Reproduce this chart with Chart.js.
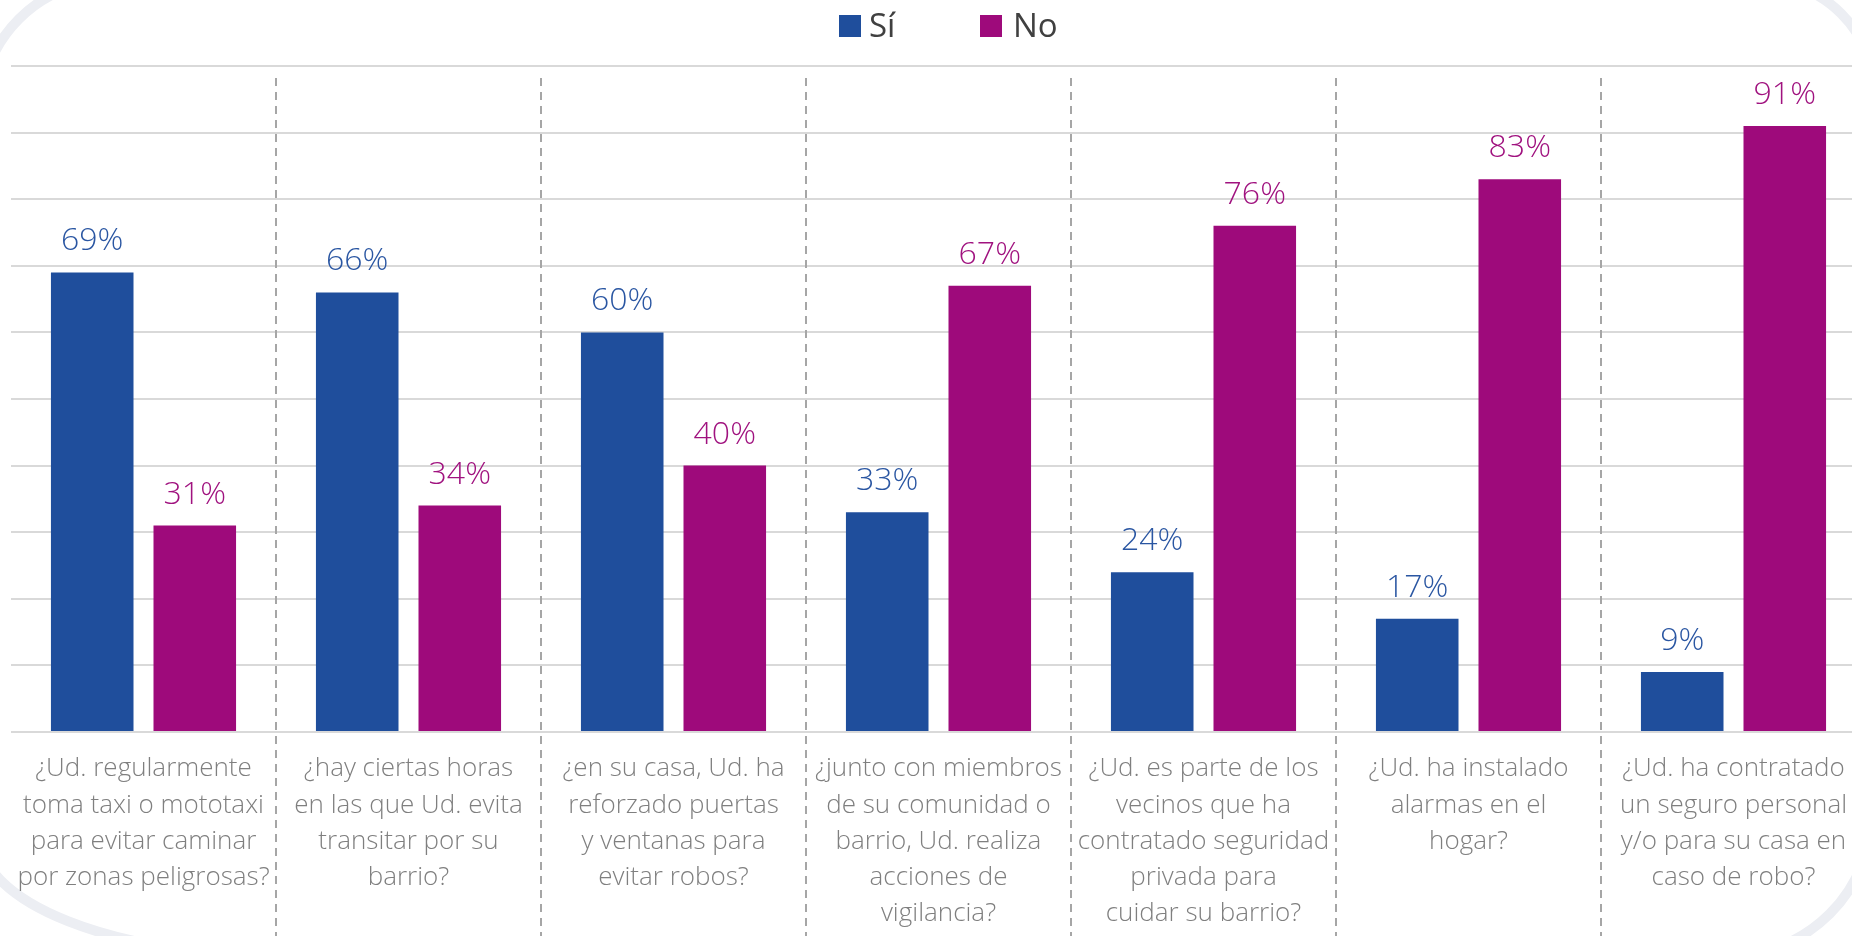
<!DOCTYPE html>
<html>
<head>
<meta charset="utf-8">
<script src="https://cdn.jsdelivr.net/npm/chart.js@4.4.1/dist/chart.umd.min.js"></script>
<style>
  html, body { margin: 0; padding: 0; background: #fff; overflow: hidden; }
  canvas { display: block; }
</style>
</head>
<body>
<canvas id="chart" width="1870" height="936"></canvas>
<script>
// datos del grafico
const categories = [
  ['¿Ud. regularmente', 'toma taxi o mototaxi', 'para evitar caminar', 'por zonas peligrosas?'],
  ['¿hay ciertas horas', 'en las que Ud. evita', 'transitar por su', 'barrio?'],
  ['¿en su casa, Ud. ha', 'reforzado puertas', 'y ventanas para', 'evitar robos?'],
  ['¿junto con miembros', 'de su comunidad o', 'barrio, Ud. realiza', 'acciones de', 'vigilancia?'],
  ['¿Ud. es parte de los', 'vecinos que ha', 'contratado seguridad', 'privada para', 'cuidar su barrio?'],
  ['¿Ud. ha instalado', 'alarmas en el', 'hogar?'],
  ['¿Ud. ha contratado', 'un seguro personal', 'y/o para su casa en', 'caso de robo?']
];
const seriesNames = ['Sí', 'No'];
const siValues = [69, 66, 60, 33, 24, 17, 9];
const noValues = [31, 34, 40, 67, 76, 83, 91];
const yMin = 0, yMax = 100, yStep = 10;

const FONT = "'Open Sans', 'Noto Sans', sans-serif";
const barColors = ['#1f4e9c', '#9e0a7b'];
const labelColors = ['#2a56a2', '#a0127f'];

// arcos decorativos del fondo
const decoPlugin = {
  id: 'deco',
  beforeDraw(chart) {
    const ctx = chart.ctx;
    ctx.save();
    ctx.strokeStyle = '#eceef3';
    ctx.lineWidth = 10;
    ctx.beginPath(); ctx.arc(113, 113, 133, Math.PI, 1.5 * Math.PI); ctx.stroke();
    ctx.beginPath(); ctx.arc(1760, 95, 115, 1.5 * Math.PI, 2 * Math.PI); ctx.stroke();
    ctx.beginPath(); ctx.arc(1728, 812, 144, 0, 0.5 * Math.PI); ctx.stroke();
    ctx.beginPath(); ctx.ellipse(280, 837, 300, 119, 0, 0.5 * Math.PI, Math.PI); ctx.stroke();
    ctx.restore();
  }
};

// lineas punteadas entre categorias
const separatorPlugin = {
  id: 'separators',
  beforeDatasetsDraw(chart) {
    const ctx = chart.ctx;
    const x = chart.scales.x;
    ctx.save();
    ctx.strokeStyle = '#a6a6a6';
    ctx.lineWidth = 2;
    ctx.setLineDash([8, 6]);
    for (let i = 0; i < categories.length - 1; i++) {
      const px = Math.round((x.getPixelForValue(i) + x.getPixelForValue(i + 1)) / 2);
      ctx.beginPath();
      ctx.moveTo(px, 78);
      ctx.lineTo(px, chart.height);
      ctx.stroke();
    }
    ctx.restore();
  }
};

// etiquetas de valor encima de cada barra
const valueLabelPlugin = {
  id: 'valueLabels',
  afterDatasetsDraw(chart) {
    const ctx = chart.ctx;
    ctx.save();
    ctx.font = '300 32px ' + FONT;
    ctx.textAlign = 'center';
    ctx.textBaseline = 'alphabetic';
    chart.data.datasets.forEach((ds, di) => {
      ctx.fillStyle = labelColors[di];
      chart.getDatasetMeta(di).data.forEach((bar, i) => {
        ctx.fillText(ds.data[i] + '%', bar.x, bar.y - 22);
      });
    });
    ctx.restore();
  }
};

// leyenda arriba
const legendPlugin = {
  id: 'topLegend',
  afterDraw(chart) {
    const ctx = chart.ctx;
    const items = [{ box: 839, text: 869 }, { box: 980, text: 1013 }];
    ctx.save();
    ctx.font = '33px ' + FONT;
    ctx.textBaseline = 'alphabetic';
    ctx.textAlign = 'left';
    chart.data.datasets.forEach((ds, i) => {
      ctx.fillStyle = ds.backgroundColor;
      ctx.fillRect(items[i].box, 15, 22, 22);
      ctx.fillStyle = '#404040';
      ctx.fillText(ds.label, items[i].text, 37);
    });
    ctx.restore();
  }
};

new Chart(document.getElementById('chart'), {
  type: 'bar',
  data: {
    labels: categories,
    datasets: [
      { label: seriesNames[0], data: siValues, backgroundColor: barColors[0] },
      { label: seriesNames[1], data: noValues, backgroundColor: barColors[1] }
    ]
  },
  options: {
    responsive: false,
    animation: false,
    events: [],
    categoryPercentage: 0.774,
    barPercentage: 0.805,
    layout: { padding: { top: 66, left: 11, right: 4, bottom: 0 } },
    plugins: {
      legend: { display: false },
      tooltip: { enabled: false }
    },
    scales: {
      x: {
        // marcas invisibles: solo empujan las etiquetas hacia abajo
        grid: { display: true, drawOnChartArea: false, drawTicks: true, tickLength: 19, color: 'rgba(0,0,0,0)' },
        border: { display: false },
        ticks: {
          color: '#7f7f7f',
          padding: 0,
          maxRotation: 0,
          autoSkip: false,
          font: { family: FONT, size: 26, weight: '300', lineHeight: 1.39 }
        },
        afterFit(scale) { scale.height = 204; }
      },
      y: {
        min: yMin,
        max: yMax,
        ticks: { display: false, stepSize: yStep },
        grid: { color: '#d9d9d9', lineWidth: 2, drawTicks: false },
        border: { display: false },
        afterFit(scale) { scale.width = 0; }
      }
    }
  },
  plugins: [decoPlugin, separatorPlugin, valueLabelPlugin, legendPlugin]
});
</script>
</body>
</html>
